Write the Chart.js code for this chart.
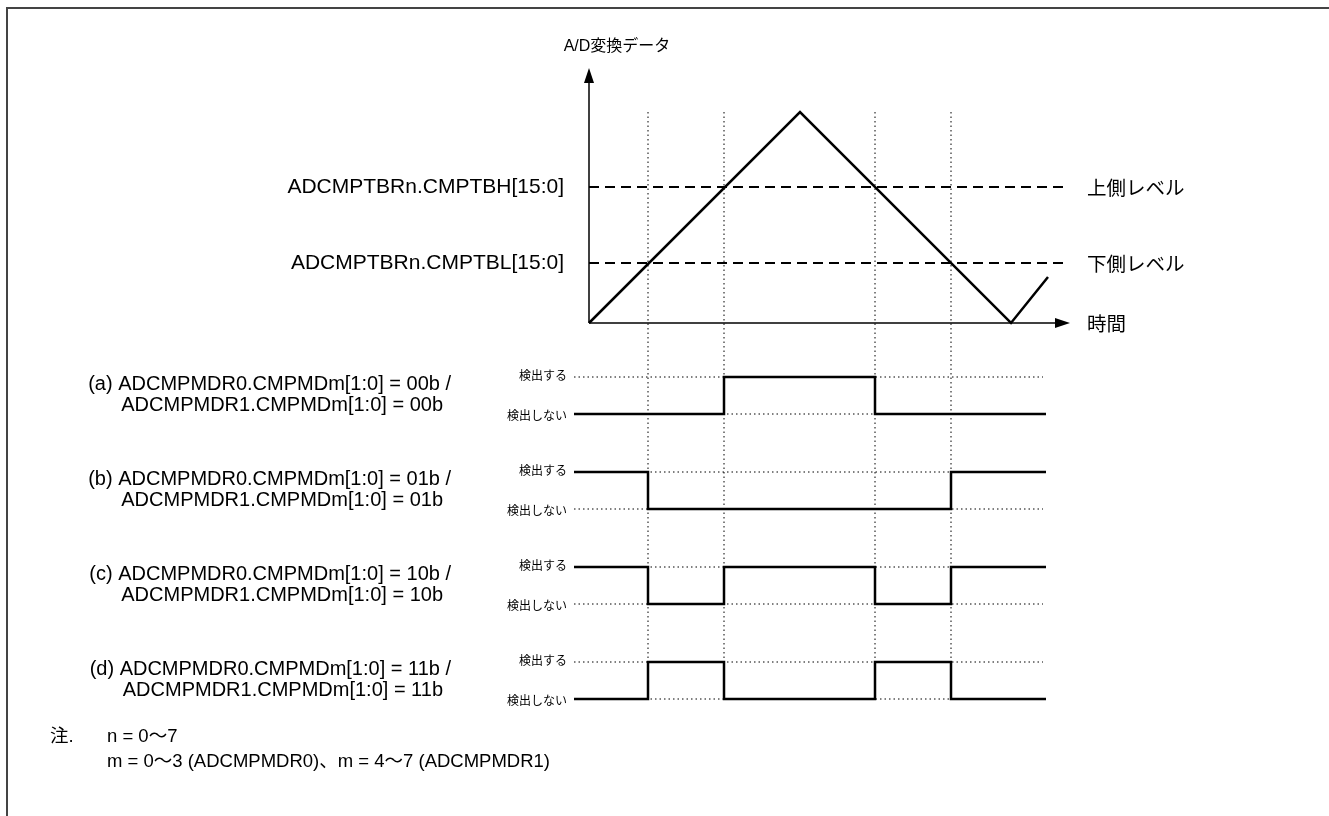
<!DOCTYPE html>
<html lang="ja">
<head>
    <meta charset="UTF-8">
    <title>A/D変換データ 比較モード</title>
    <script src="https://cdn.jsdelivr.net/npm/chart.js"></script>
    <style>
        html, body { margin: 0; padding: 0; background: #fff; }
        #chart { display: block; }
    </style>
</head>
<body>
    <canvas id="chart" width="1329" height="816"></canvas>

    <script>
        // A/D value over time (time and value in the same arbitrary units)
        const adTime = [0, 211, 422, 459];
        const adValue = [0, 211, 0, 46];
        const upperLevel = 136;
        const lowerLevel = 60;
        const levelLabels = ['ADCMPTBRn.CMPTBH[15:0]', 'ADCMPTBRn.CMPTBL[15:0]'];
        const levelNames = ['上側レベル', '下側レベル'];

        // times where the A/D data crosses a level
        const crossTimes = [59, 135, 286, 362];
        const signalStart = -15;
        const signalEnd = 457;

        // detection state per segment (before 1st crossing, ..., after last crossing)
        const modeNames = [
            ['(a) ADCMPMDR0.CMPMDm[1:0] = 00b /', 'ADCMPMDR1.CMPMDm[1:0] = 00b'],
            ['(b) ADCMPMDR0.CMPMDm[1:0] = 01b /', 'ADCMPMDR1.CMPMDm[1:0] = 01b'],
            ['(c) ADCMPMDR0.CMPMDm[1:0] = 10b /', 'ADCMPMDR1.CMPMDm[1:0] = 10b'],
            ['(d) ADCMPMDR0.CMPMDm[1:0] = 11b /', 'ADCMPMDR1.CMPMDm[1:0] = 11b']
        ];
        const modeA = [0, 0, 1, 0, 0];
        const modeB = [1, 0, 0, 0, 1];
        const modeC = [1, 0, 1, 0, 1];
        const modeD = [0, 1, 0, 1, 0];
        const stateNames = ['検出しない', '検出する'];

        const noteLines = ['n = 0〜7', 'm = 0〜3 (ADCMPMDR0)、m = 4〜7 (ADCMPMDR1)'];

        const latin = "'Liberation Sans', Arial, 'Noto Sans CJK JP', sans-serif";
        const jp = "'Noto Sans CJK JP', sans-serif";

        // lanes for the detection signals (in the same y units as the A/D data)
        const laneTop = i => -54 - 95 * i;
        const laneHeight = 37;
        const stateY = (i, s) => laneTop(i) - (s ? 0 : laneHeight);

        function stepData(states, lane) {
            const xs = [signalStart].concat(crossTimes);
            const pts = xs.map((x, k) => ({ x: x, y: stateY(lane, states[k]) }));
            pts.push({ x: signalEnd, y: stateY(lane, states[states.length - 1]) });
            return pts;
        }

        const datasets = [];
        const dotted = { borderColor: '#000', borderWidth: 1, borderDash: [1.5, 3], pointRadius: 0 };

        // vertical dotted guides
        crossTimes.forEach(t => {
            datasets.push(Object.assign({ data: [{ x: t, y: 211 }, { x: t, y: stateY(3, 0) - 2 }] }, dotted));
        });
        // dotted state guides for every lane
        [modeA, modeB, modeC, modeD].forEach((m, i) => {
            [0, 1].forEach(s => {
                datasets.push(Object.assign({ data: [{ x: signalStart, y: stateY(i, s) }, { x: signalEnd - 3, y: stateY(i, s) }] }, dotted));
            });
        });
        // level lines
        datasets.push({ data: [{ x: 0, y: upperLevel }, { x: 480, y: upperLevel }], borderColor: '#000', borderWidth: 2, borderDash: [10, 6], pointRadius: 0 });
        datasets.push({ data: [{ x: 0, y: lowerLevel }, { x: 474, y: lowerLevel }], borderColor: '#000', borderWidth: 2, borderDash: [10, 6], pointRadius: 0 });
        // axes
        datasets.push({ data: [{ x: 0, y: 0 }, { x: 0, y: 240 }], borderColor: '#000', borderWidth: 1.5, pointRadius: 0 });
        datasets.push({ data: [{ x: 0, y: 0 }, { x: 470, y: 0 }], borderColor: '#000', borderWidth: 1.5, pointRadius: 0 });
        // A/D data
        datasets.push({
            data: adTime.map((t, i) => ({ x: t, y: adValue[i] })),
            borderColor: '#000', borderWidth: 2.5, pointRadius: 0, tension: 0
        });
        // detection signals
        [modeA, modeB, modeC, modeD].forEach((m, i) => {
            datasets.push({ data: stepData(m, i), stepped: 'before', borderColor: '#000', borderWidth: 2.5, pointRadius: 0 });
        });

        const decorPlugin = {
            id: 'decor',
            afterDraw(chart) {
                const ctx = chart.ctx;
                const xs = chart.scales.x, ys = chart.scales.y;
                const px = v => xs.getPixelForValue(v);
                const py = v => ys.getPixelForValue(v);
                ctx.save();

                // frame
                ctx.strokeStyle = '#444';
                ctx.lineWidth = 2;
                ctx.beginPath();
                ctx.moveTo(7, 830);
                ctx.lineTo(7, 8);
                ctx.lineTo(1340, 8);
                ctx.stroke();

                // arrow heads
                ctx.fillStyle = '#000';
                ctx.beginPath();
                ctx.moveTo(px(0), py(255));
                ctx.lineTo(px(0) - 5, py(240));
                ctx.lineTo(px(0) + 5, py(240));
                ctx.closePath();
                ctx.fill();
                ctx.beginPath();
                ctx.moveTo(px(481), py(0));
                ctx.lineTo(px(466), py(0) - 5);
                ctx.lineTo(px(466), py(0) + 5);
                ctx.closePath();
                ctx.fill();

                ctx.fillStyle = '#000';
                ctx.textBaseline = 'middle';

                // title
                ctx.font = '16px ' + latin;
                ctx.textAlign = 'center';
                ctx.fillText('A/D変換データ', px(28), py(276));

                // level labels
                ctx.font = '21px ' + latin;
                ctx.textAlign = 'right';
                ctx.fillText(levelLabels[0], px(-25), py(upperLevel));
                ctx.fillText(levelLabels[1], px(-25), py(lowerLevel));
                ctx.font = '19.5px ' + jp;
                ctx.textAlign = 'left';
                ctx.fillText(levelNames[0], px(498), py(upperLevel) + 1);
                ctx.fillText(levelNames[1], px(498), py(lowerLevel) + 1);
                ctx.fillText('時間', px(498), py(0) + 1);

                // lanes
                modeNames.forEach((names, i) => {
                    const yTop = py(stateY(i, 1));
                    const yLow = py(stateY(i, 0));
                    ctx.font = '20px ' + latin;
                    ctx.textAlign = 'right';
                    ctx.fillText(names[0], 451, yTop + 7);
                    ctx.fillText(names[1], 443, yTop + 28);
                    ctx.font = '12px ' + jp;
                    ctx.fillText(stateNames[1], px(signalStart) - 7, yTop - 2);
                    ctx.fillText(stateNames[0], px(signalStart) - 7, yLow + 1);
                });

                // note
                ctx.font = '18.5px ' + latin;
                ctx.textAlign = 'left';
                ctx.fillText('注.', 50, 737);
                ctx.fillText(noteLines[0], 107, 737);
                ctx.fillText(noteLines[1], 107, 762);

                ctx.restore();
            }
        };

        new Chart(document.getElementById('chart'), {
            type: 'line',
            data: { datasets: datasets },
            options: {
                responsive: false,
                animation: false,
                events: [],
                layout: { padding: 0 },
                plugins: { legend: { display: false }, tooltip: { enabled: false } },
                scales: {
                    x: { type: 'linear', display: false, min: -589, max: 740 },
                    y: { type: 'linear', display: false, min: -493, max: 323 }
                }
            },
            plugins: [decorPlugin]
        });
    </script>
</body>
</html>
